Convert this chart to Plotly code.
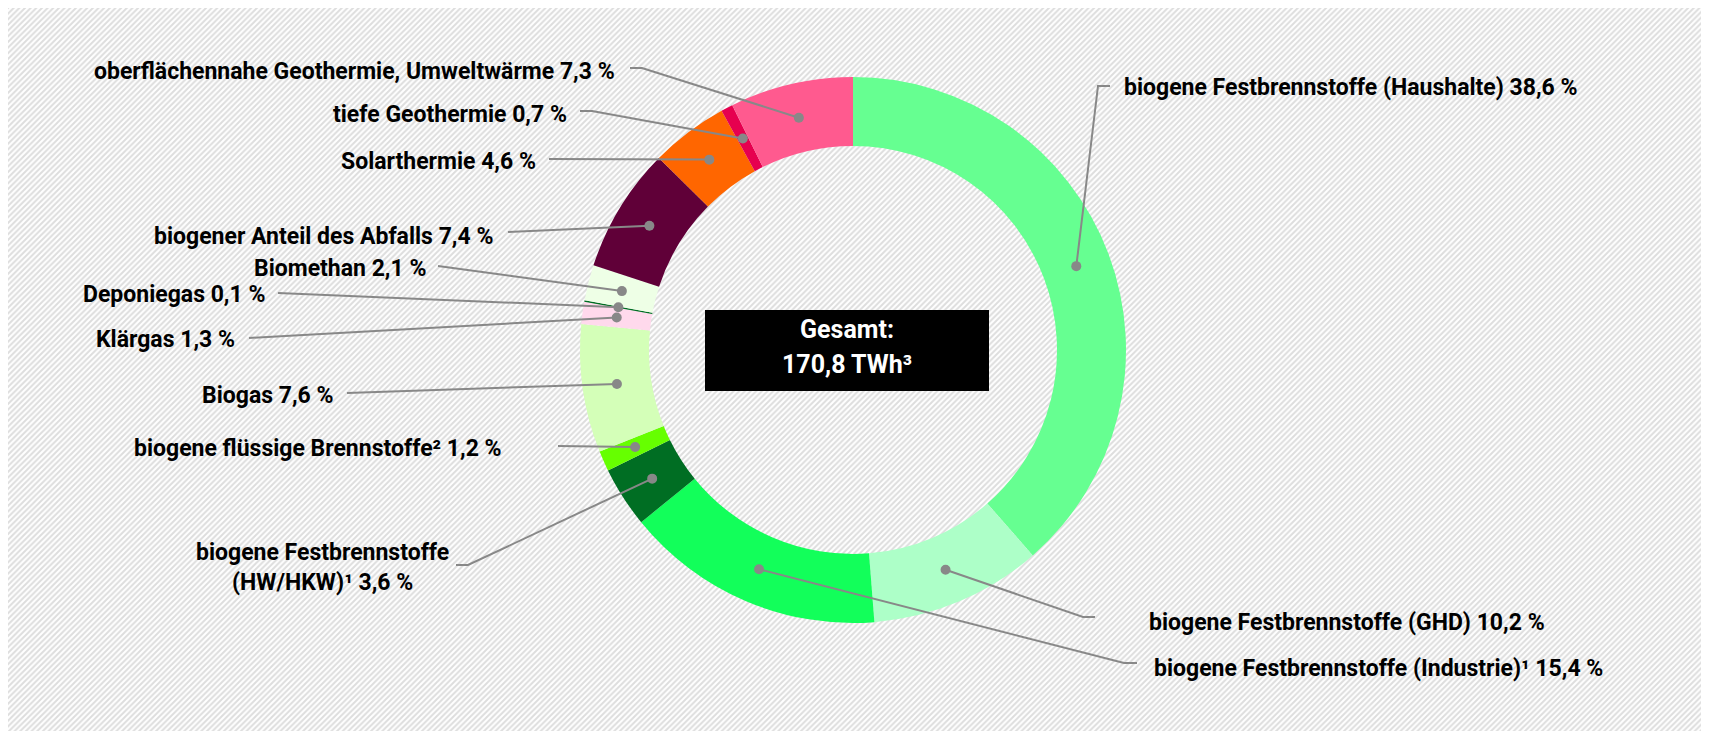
import plotly.graph_objects as go
import math

# ---- data ----
categories = [
    "biogene Festbrennstoffe (Haushalte)",
    "biogene Festbrennstoffe (GHD)",
    "biogene Festbrennstoffe (Industrie)¹",
    "biogene Festbrennstoffe<br>(HW/HKW)¹",
    "biogene flüssige Brennstoffe²",
    "Biogas",
    "Klärgas",
    "Deponiegas",
    "Biomethan",
    "biogener Anteil des Abfalls",
    "Solarthermie",
    "tiefe Geothermie",
    "oberflächennahe Geothermie, Umweltwärme",
]
values = [38.6, 10.2, 15.4, 3.6, 1.2, 7.6, 1.3, 0.1, 2.1, 7.4, 4.6, 0.7, 7.3]
colors = ["#66ff91", "#adffc8", "#12ff5a", "#006e23", "#66ff00", "#d4ffb8",
          "#ffd9ec", "#006e23", "#eeffe6", "#600038", "#ff6600", "#e6004f", "#ff5a8f"]
total_lines = ["Gesamt:", "170,8 TWh³"]

# ---- layout constants (coordinates in window pixels; page body margin = 8) ----
OFF = 8
W, H = 1693, 723
CX, CY = 853, 350
R_OUT, R_IN = 273, 204
R_MID = (R_OUT + R_IN) / 2
FONT = "Roboto, Lato, sans-serif"
LINE_COL = "#888888"

# label placement: (x, y, xanchor, leader points from label side)
label_pos = [
    (1122, 87, "left", [(1110, 86), (1098, 86)]),
    (1147, 622, "left", [(1095, 617), (1083, 617)]),
    (1152, 668, "left", [(1137, 663), (1124, 663)]),
    (322, 567, "center", [(456, 565), (468, 565)]),
    (504, 448, "right", [(558, 446)]),
    (336, 395, "right", [(347, 393)]),
    (237, 339, "right", [(249, 338)]),
    (267, 294, "right", [(278, 293)]),
    (428, 268, "right", [(438, 266)]),
    (495, 236, "right", [(508, 232)]),
    (538, 161, "right", [(549, 159)]),
    (569, 114, "right", [(580, 111), (592, 111)]),
    (617, 71, "right", [(630, 68), (642, 68)]),
]

fig = go.Figure()

# hatched background over the whole figure
X0, X1, Y0, Y1 = OFF, OFF + W, OFF, OFF + H
fig.add_trace(go.Scatter(
    x=[X0 - 5, X1 + 5, X1 + 5, X0 - 5, X0 - 5], y=[Y0 - 5, Y0 - 5, Y1 + 5, Y1 + 5, Y0 - 5],
    mode="lines", fill="toself", line=dict(width=0),
    fillcolor="white",
    fillpattern=dict(shape="/", size=4, solidity=0.5, fgcolor="#bcbcbc", bgcolor="white"),
    hoverinfo="skip", showlegend=False,
))

fig.add_trace(go.Pie(
    labels=[c.replace("<br>", " ") for c in categories],
    values=values,
    marker=dict(colors=colors, line=dict(width=0)),
    hole=R_IN / R_OUT,
    sort=False, direction="clockwise", rotation=0,
    textinfo="none", hoverinfo="label+value", showlegend=False,
    domain=dict(x=[(CX - R_OUT - OFF) / W, (CX + R_OUT - OFF) / W],
                y=[(Y1 - CY - R_OUT) / H, (Y1 - CY + R_OUT) / H]),
))

shapes = []
annotations = []
tot = sum(values)
cum = 0.0
for cat, v, (lx, ly, anc, pts) in zip(categories, values, label_pos):
    mid = (cum + v / 2) / tot * 2 * math.pi
    cum += v
    dx = CX + R_MID * math.sin(mid)
    dy = CY - R_MID * math.cos(mid)
    path_pts = pts + [(dx, dy)]
    d = "M " + " L ".join(f"{px:.1f},{py:.1f}" for px, py in path_pts)
    shapes.append(dict(type="path", path=d, xref="x", yref="y", layer="above",
                       line=dict(color=LINE_COL, width=2)))
    shapes.append(dict(type="circle", xref="x", yref="y", layer="above",
                       x0=dx - 5, x1=dx + 5, y0=dy - 5, y1=dy + 5,
                       fillcolor=LINE_COL, line=dict(width=0)))
    txt = f"{cat} " + f"{v:.1f}".replace(".", ",") + " %"
    annotations.append(dict(x=lx, y=ly, xref="x", yref="y", text=txt, showarrow=False,
                            xanchor=anc, yanchor="middle", align="center",
                            font=dict(family=FONT, size=23, color="black", weight="bold")))

# center box
shapes.append(dict(type="rect", xref="x", yref="y", layer="above",
                   x0=705, x1=989, y0=310, y1=391, fillcolor="black", line=dict(width=0)))
for t, yy in zip(total_lines, [329, 364]):
    annotations.append(dict(x=847, y=yy, xref="x", yref="y", text=t, showarrow=False,
                            xanchor="center", yanchor="middle",
                            font=dict(family=FONT, size=25, color="white", weight="bold")))

fig.update_layout(
    width=W, height=H,
    margin=dict(l=0, r=0, t=0, b=0),
    paper_bgcolor="white", plot_bgcolor="white",
    xaxis=dict(range=[X0, X1], visible=False, fixedrange=True, domain=[0, 1]),
    yaxis=dict(range=[Y1, Y0], visible=False, fixedrange=True, domain=[0, 1]),
    shapes=shapes, annotations=annotations,
    showlegend=False,
)

fig.write_html("out.html")
